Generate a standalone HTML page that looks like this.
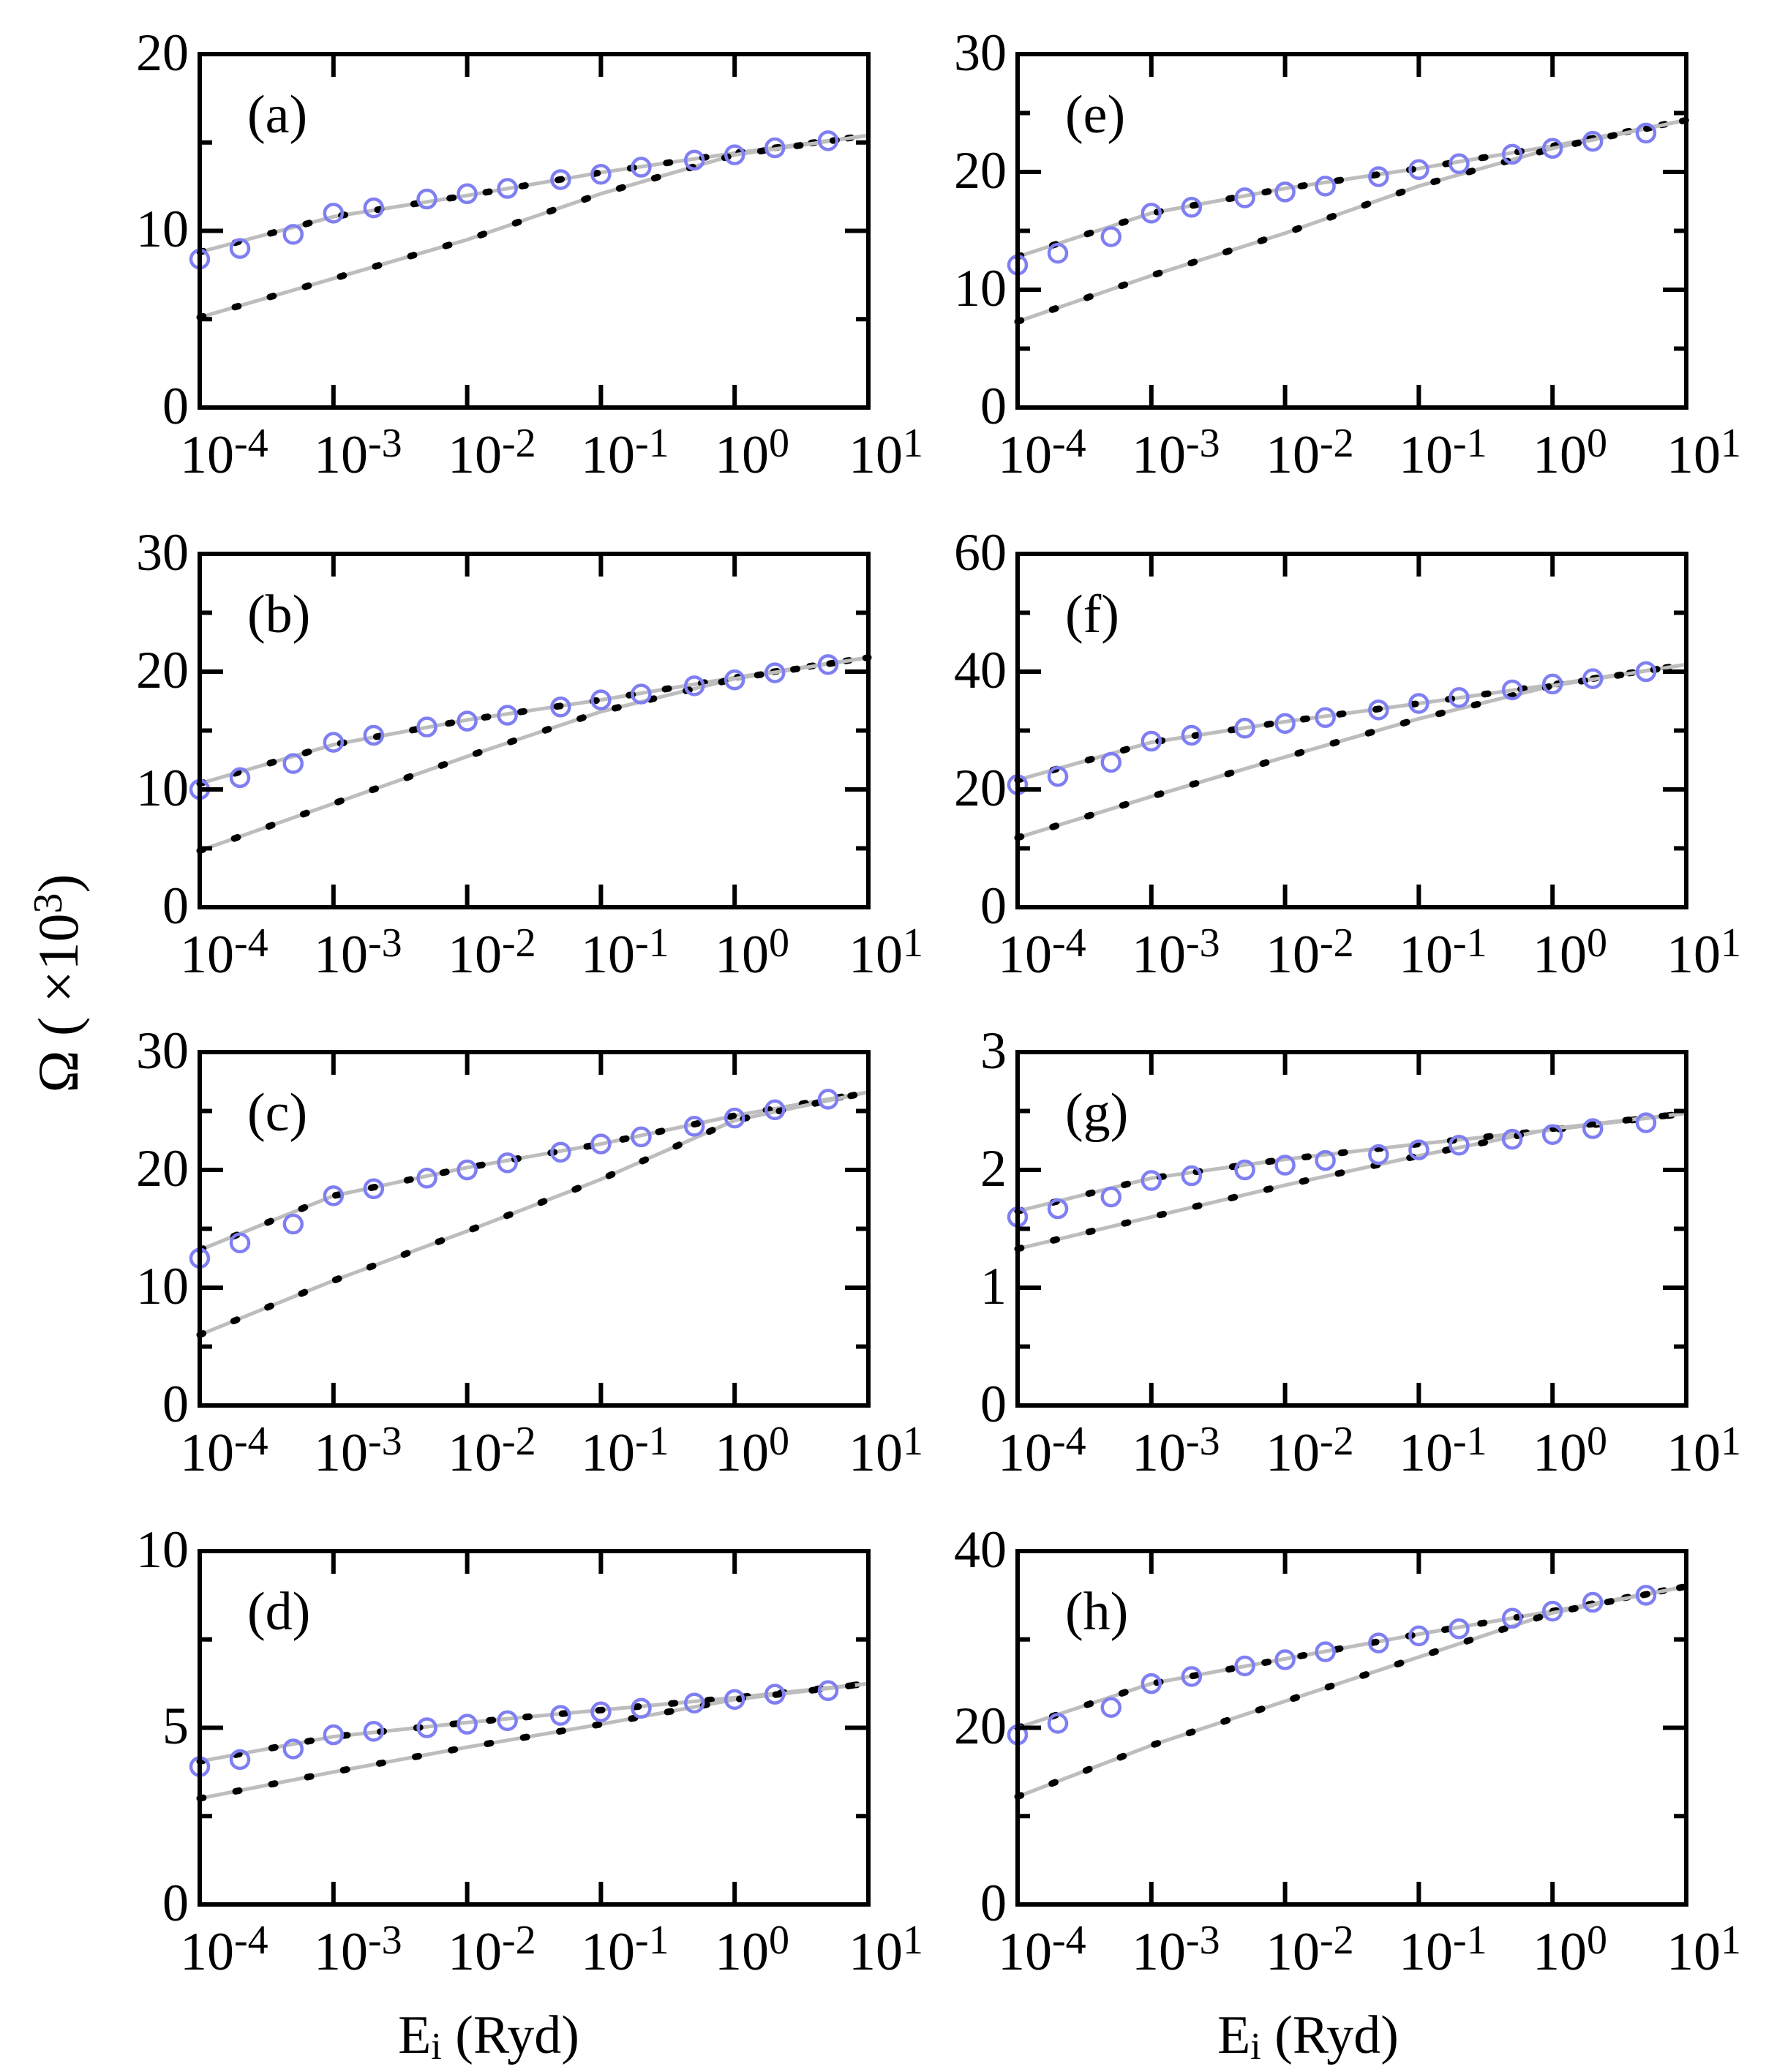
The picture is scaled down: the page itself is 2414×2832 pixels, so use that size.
<!DOCTYPE html>
<html><head><meta charset="utf-8"><style>
html,body{margin:0;padding:0;background:#fff}
svg{display:block}
text{font-family:"Liberation Serif",serif;fill:#000}
</style></head><body>
<svg id="s" width="2414" height="2832" viewBox="0 0 2414 2832" xmlns="http://www.w3.org/2000/svg">
<rect width="2414" height="2832" fill="#fff"/>
<text transform="translate(106,1344) rotate(-90)" text-anchor="middle" font-size="78">Ω ( ×10<tspan font-size="56" dy="-22">3</tspan><tspan dy="22">)</tspan></text>
<text x="668" y="2806" text-anchor="middle" font-size="74">E<tspan font-size="52" dy="8">i</tspan><tspan dy="-8"> (Ryd)</tspan></text>
<text x="1788" y="2806" text-anchor="middle" font-size="74">E<tspan font-size="52" dy="8">i</tspan><tspan dy="-8"> (Ryd)</tspan></text>

<g id="p0" transform="translate(273,74)"><text x="65" y="107" font-size="74">(a)</text>
<g font-size="72" text-anchor="end"><text x="-15" y="22">20</text><text x="-15" y="263">10</text><text x="-15" y="505">0</text></g></g>
<g id="p1" transform="translate(273,757)"><text x="65" y="107" font-size="74">(b)</text>
<g font-size="72" text-anchor="end"><text x="-15" y="22">30</text><text x="-15" y="183">20</text><text x="-15" y="344">10</text><text x="-15" y="505">0</text></g></g>
<g id="p2" transform="translate(273,1438)"><text x="65" y="107" font-size="74">(c)</text>
<g font-size="72" text-anchor="end"><text x="-15" y="22">30</text><text x="-15" y="183">20</text><text x="-15" y="344">10</text><text x="-15" y="505">0</text></g></g>
<g id="p3" transform="translate(273,2120)"><text x="65" y="107" font-size="74">(d)</text>
<g font-size="72" text-anchor="end"><text x="-15" y="22">10</text><text x="-15" y="263">5</text><text x="-15" y="505">0</text></g></g>
<g id="p4" transform="translate(1391,74)"><text x="65" y="107" font-size="74">(e)</text>
<g font-size="72" text-anchor="end"><text x="-15" y="22">30</text><text x="-15" y="183">20</text><text x="-15" y="344">10</text><text x="-15" y="505">0</text></g></g>
<g id="p5" transform="translate(1391,757)"><text x="65" y="107" font-size="74">(f)</text>
<g font-size="72" text-anchor="end"><text x="-15" y="22">60</text><text x="-15" y="183">40</text><text x="-15" y="344">20</text><text x="-15" y="505">0</text></g></g>
<g id="p6" transform="translate(1391,1438)"><text x="65" y="107" font-size="74">(g)</text>
<g font-size="72" text-anchor="end"><text x="-15" y="22">3</text><text x="-15" y="183">2</text><text x="-15" y="344">1</text><text x="-15" y="505">0</text></g></g>
<g id="p7" transform="translate(1391,2120)"><text x="65" y="107" font-size="74">(h)</text>
<g font-size="72" text-anchor="end"><text x="-15" y="22">40</text><text x="-15" y="263">20</text><text x="-15" y="505">0</text></g></g>

<g transform="translate(273,557)" font-size="74"><text x="-27" y="89">10<tspan font-size="56" dy="-22">-4</tspan></text><text x="156" y="89">10<tspan font-size="56" dy="-22">-3</tspan></text><text x="339" y="89">10<tspan font-size="56" dy="-22">-2</tspan></text><text x="521" y="89">10<tspan font-size="56" dy="-22">-1</tspan></text><text x="704" y="89">10<tspan font-size="56" dy="-22">0</tspan></text><text x="887" y="89">10<tspan font-size="56" dy="-22">1</tspan></text></g>
<g transform="translate(273,1240)" font-size="74"><text x="-27" y="89">10<tspan font-size="56" dy="-22">-4</tspan></text><text x="156" y="89">10<tspan font-size="56" dy="-22">-3</tspan></text><text x="339" y="89">10<tspan font-size="56" dy="-22">-2</tspan></text><text x="521" y="89">10<tspan font-size="56" dy="-22">-1</tspan></text><text x="704" y="89">10<tspan font-size="56" dy="-22">0</tspan></text><text x="887" y="89">10<tspan font-size="56" dy="-22">1</tspan></text></g>
<g transform="translate(273,1921)" font-size="74"><text x="-27" y="89">10<tspan font-size="56" dy="-22">-4</tspan></text><text x="156" y="89">10<tspan font-size="56" dy="-22">-3</tspan></text><text x="339" y="89">10<tspan font-size="56" dy="-22">-2</tspan></text><text x="521" y="89">10<tspan font-size="56" dy="-22">-1</tspan></text><text x="704" y="89">10<tspan font-size="56" dy="-22">0</tspan></text><text x="887" y="89">10<tspan font-size="56" dy="-22">1</tspan></text></g>
<g transform="translate(273,2603)" font-size="74"><text x="-27" y="89">10<tspan font-size="56" dy="-22">-4</tspan></text><text x="156" y="89">10<tspan font-size="56" dy="-22">-3</tspan></text><text x="339" y="89">10<tspan font-size="56" dy="-22">-2</tspan></text><text x="521" y="89">10<tspan font-size="56" dy="-22">-1</tspan></text><text x="704" y="89">10<tspan font-size="56" dy="-22">0</tspan></text><text x="887" y="89">10<tspan font-size="56" dy="-22">1</tspan></text></g>
<g transform="translate(1391,557)" font-size="74"><text x="-27" y="89">10<tspan font-size="56" dy="-22">-4</tspan></text><text x="156" y="89">10<tspan font-size="56" dy="-22">-3</tspan></text><text x="339" y="89">10<tspan font-size="56" dy="-22">-2</tspan></text><text x="521" y="89">10<tspan font-size="56" dy="-22">-1</tspan></text><text x="704" y="89">10<tspan font-size="56" dy="-22">0</tspan></text><text x="887" y="89">10<tspan font-size="56" dy="-22">1</tspan></text></g>
<g transform="translate(1391,1240)" font-size="74"><text x="-27" y="89">10<tspan font-size="56" dy="-22">-4</tspan></text><text x="156" y="89">10<tspan font-size="56" dy="-22">-3</tspan></text><text x="339" y="89">10<tspan font-size="56" dy="-22">-2</tspan></text><text x="521" y="89">10<tspan font-size="56" dy="-22">-1</tspan></text><text x="704" y="89">10<tspan font-size="56" dy="-22">0</tspan></text><text x="887" y="89">10<tspan font-size="56" dy="-22">1</tspan></text></g>
<g transform="translate(1391,1921)" font-size="74"><text x="-27" y="89">10<tspan font-size="56" dy="-22">-4</tspan></text><text x="156" y="89">10<tspan font-size="56" dy="-22">-3</tspan></text><text x="339" y="89">10<tspan font-size="56" dy="-22">-2</tspan></text><text x="521" y="89">10<tspan font-size="56" dy="-22">-1</tspan></text><text x="704" y="89">10<tspan font-size="56" dy="-22">0</tspan></text><text x="887" y="89">10<tspan font-size="56" dy="-22">1</tspan></text></g>
<g transform="translate(1391,2603)" font-size="74"><text x="-27" y="89">10<tspan font-size="56" dy="-22">-4</tspan></text><text x="156" y="89">10<tspan font-size="56" dy="-22">-3</tspan></text><text x="339" y="89">10<tspan font-size="56" dy="-22">-2</tspan></text><text x="521" y="89">10<tspan font-size="56" dy="-22">-1</tspan></text><text x="704" y="89">10<tspan font-size="56" dy="-22">0</tspan></text><text x="887" y="89">10<tspan font-size="56" dy="-22">1</tspan></text></g>
</svg>
<script>
(function(){
var NS="http://www.w3.org/2000/svg",W=914,H=483;
var cx=[1e-4,2e-4,5e-4,1e-3,2e-3,5e-3,1e-2,2e-2,5e-2,0.1,0.2,0.5,1,2,5];
var P=[
[20,10,[8.4,9.0,9.8,11.0,11.3,11.8,12.1,12.4,12.9,13.2,13.6,14.0,14.3,14.7,15.1],[8.8,10.8,12.0,13.3,14.4,15.4],[5.1,7.3,9.5,12.1,14.3,15.4]],
[30,10,[10,11,12.2,14,14.6,15.3,15.8,16.3,17.0,17.6,18.1,18.8,19.3,19.9,20.6],[10.5,13.8,15.9,17.6,19.5,21.2],[4.8,8.8,12.8,16.6,19.4,21.2]],
[30,10,[12.5,13.8,15.4,17.8,18.4,19.3,20,20.6,21.5,22.2,22.8,23.7,24.4,25.1,26],[13.2,17.8,20.2,22.2,24.6,26.6],[6,10.6,14.8,19.2,24.2,26.6]],
[10,5,[3.9,4.1,4.4,4.8,4.9,5.0,5.1,5.2,5.35,5.45,5.55,5.7,5.8,5.95,6.05],[4.05,4.75,5.15,5.5,5.85,6.25],[3.0,3.75,4.45,5.1,5.8,6.25]],
[30,10,[12.1,13.1,14.5,16.5,17.0,17.8,18.3,18.8,19.6,20.2,20.7,21.5,22.0,22.6,23.3],[12.8,16.5,18.6,20.3,22.2,24.4],[7.3,11.2,14.8,18.8,22.0,24.4]],
[60,20,[20.8,22.2,24.6,28.2,29.2,30.4,31.2,32.2,33.5,34.6,35.6,36.9,37.9,38.8,40],[21.6,28.0,31.5,34.6,37.8,41.2],[11.8,18.8,25.5,32.0,37.6,41.2]],
[3,1,[1.6,1.67,1.77,1.91,1.95,2.0,2.04,2.08,2.13,2.17,2.21,2.26,2.30,2.35,2.40],[1.65,1.93,2.09,2.22,2.34,2.48],[1.33,1.6,1.87,2.12,2.35,2.48]],
[40,20,[19.2,20.5,22.3,25.0,25.8,27.0,27.7,28.6,29.6,30.4,31.2,32.4,33.2,34.2,35.0],[20.0,25.0,27.8,30.6,33.2,36.0],[12.2,18.0,23.0,28.0,33.0,36.0]]
];
function el(t,a,p){var e=document.createElementNS(NS,t);for(var k in a)e.setAttribute(k,a[k]);p.appendChild(e);return e;}
P.forEach(function(d,i){
 var g=document.getElementById("p"+i),ym=d[0],mj=d[1];
 function X(v){return (Math.log10(v)+4)*W/5;}
 function Y(v){return H-v/ym*H;}
 [d[3],d[4]].forEach(function(c){
  var pts=c.map(function(v,j){return (j*W/5).toFixed(1)+","+Y(v).toFixed(1);}).join(" ");
  el("polyline",{points:pts,fill:"none",stroke:"#bdbdbd","stroke-width":5},g);
  el("polyline",{points:pts,fill:"none",stroke:"#000","stroke-width":9,"stroke-dasharray":"5 45","stroke-linecap":"round"},g);
 });
 d[2].forEach(function(v,j){el("circle",{cx:X(cx[j]),cy:Y(v),r:12,fill:"none",stroke:"#7f7ff2","stroke-width":4.5},g);});
 var s="";
 for(var k=1;k<5;k++){var x=k*W/5;s+="M"+x+",0v31M"+x+","+H+"v-31";}
 for(var v=0;v<=ym+1e-9;v+=mj/2){var y=Y(v);var L=(Math.round(v/mj*2)%2==0)?32:17;s+="M0,"+y+"h"+L+"M"+W+","+y+"h-"+L;}
 el("path",{d:s,stroke:"#000","stroke-width":6,fill:"none"},g);
 el("rect",{x:0,y:0,width:W,height:H,fill:"none",stroke:"#000","stroke-width":6},g);
});
})();
</script>
</body></html>
